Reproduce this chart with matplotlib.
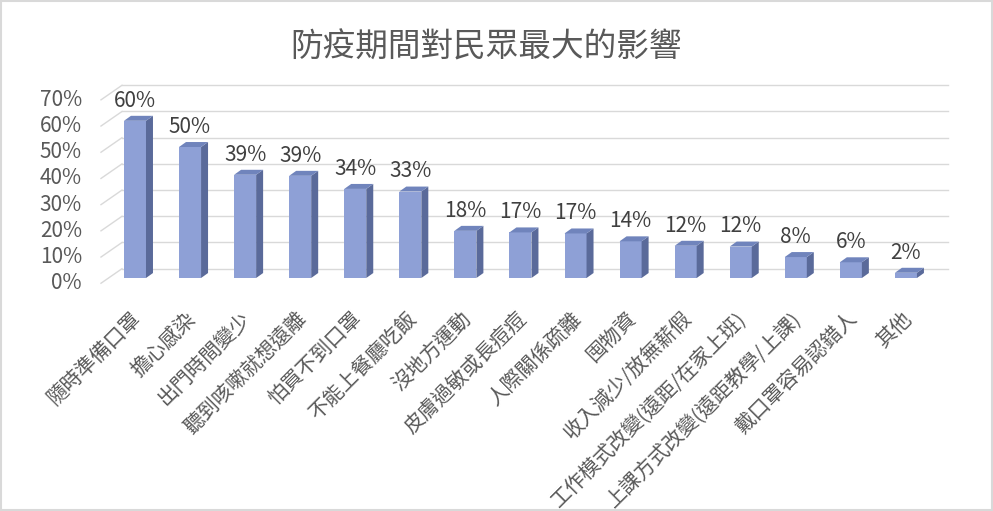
import matplotlib
matplotlib.use("Agg")
import matplotlib.pyplot as plt
from matplotlib.patches import Polygon, Rectangle

plt.rcParams['font.family'] = ['Noto Sans CJK TC', 'DejaVu Sans']

# data
categories = ['隨時準備口罩', '擔心感染', '出門時間變少', '聽到咳嗽就想遠離', '怕買不到口罩',
              '不能上餐廳吃飯', '沒地方運動', '皮膚過敏或長痘痘', '人際關係疏離', '囤物資',
              '收入減少/放無薪假', '工作模式改變(遠距/在家上班)', '上課方式改變(遠距教學/上課)',
              '戴口罩容易認錯人', '其他']
values = [60, 50, 39.4, 39, 34, 33, 18, 17.4, 17, 14, 12.3, 12, 8, 6, 2]
labels = ['60%', '50%', '39%', '39%', '34%', '33%', '18%', '17%', '17%', '14%',
          '12%', '12%', '8%', '6%', '2%']
ticks = [0, 10, 20, 30, 40, 50, 60, 70]

front_c = '#8EA0D6'
top_c = '#7084BC'
side_c = '#5A6A9A'
grid_c = '#D9D9D9'
text_c = '#595959'

fig = plt.figure(figsize=(9.93, 5.11), dpi=100)
# pixel scale: 55.07 px per bar, 2.62 px per percent
ax = fig.add_axes([79.9 / 993, 219.9 / 511, 881.1 / 993, 209.6 / 511])
ax.set_xlim(-1, 15)
ax.set_ylim(-5, 75)
ax.axis('off')

w = 0.4      # front face width
dx = 0.127   # bar depth offset (x)
dy = 1.9     # bar depth offset (y, %)

# back wall gridlines and side wall slants
for t in ticks:
    ax.plot([-0.236, 14.76], [t + 3.55, t + 3.55], color=grid_c, lw=1, zorder=1)
    ax.plot([-0.617, -0.236], [t - 2.0, t + 3.55], color=grid_c, lw=1, zorder=1)
    ax.text(-0.96, t - 2.0, f'{t}%', ha='right', va='center', fontsize=15, color=text_c)

for i, v in enumerate(values):
    ax.bar(i, v, width=w, color=front_c, zorder=3)
    r = i + w / 2
    ax.add_patch(Polygon([(r, 0), (r + dx, dy), (r + dx, v + dy), (r, v)],
                         closed=True, facecolor=side_c, edgecolor='none', zorder=3))
    ax.add_patch(Polygon([(i - w / 2, v), (r, v), (r + dx, v + dy), (i - w / 2 + dx, v + dy)],
                         closed=True, facecolor=top_c, edgecolor='none', zorder=3))
    ax.text(i, v + 7.7, labels[i], ha='center', va='center', fontsize=15, color='#404040')
    ax.text(i + 0.05, -14.3, categories[i], ha='right', va='center', rotation=45,
            rotation_mode='anchor', fontsize=14.7, color=text_c)

fig.text(486 / 993, 1 - 47 / 511, '防疫期間對民眾最大的影響', ha='center', va='center',
         fontsize=23.5, color=text_c)

fig.patches.append(Rectangle((0.001, 0.001), 0.998, 0.997, transform=fig.transFigure,
                             fill=False, edgecolor=grid_c, lw=1.5))

fig.savefig('out.png', dpi=100, facecolor='white')
